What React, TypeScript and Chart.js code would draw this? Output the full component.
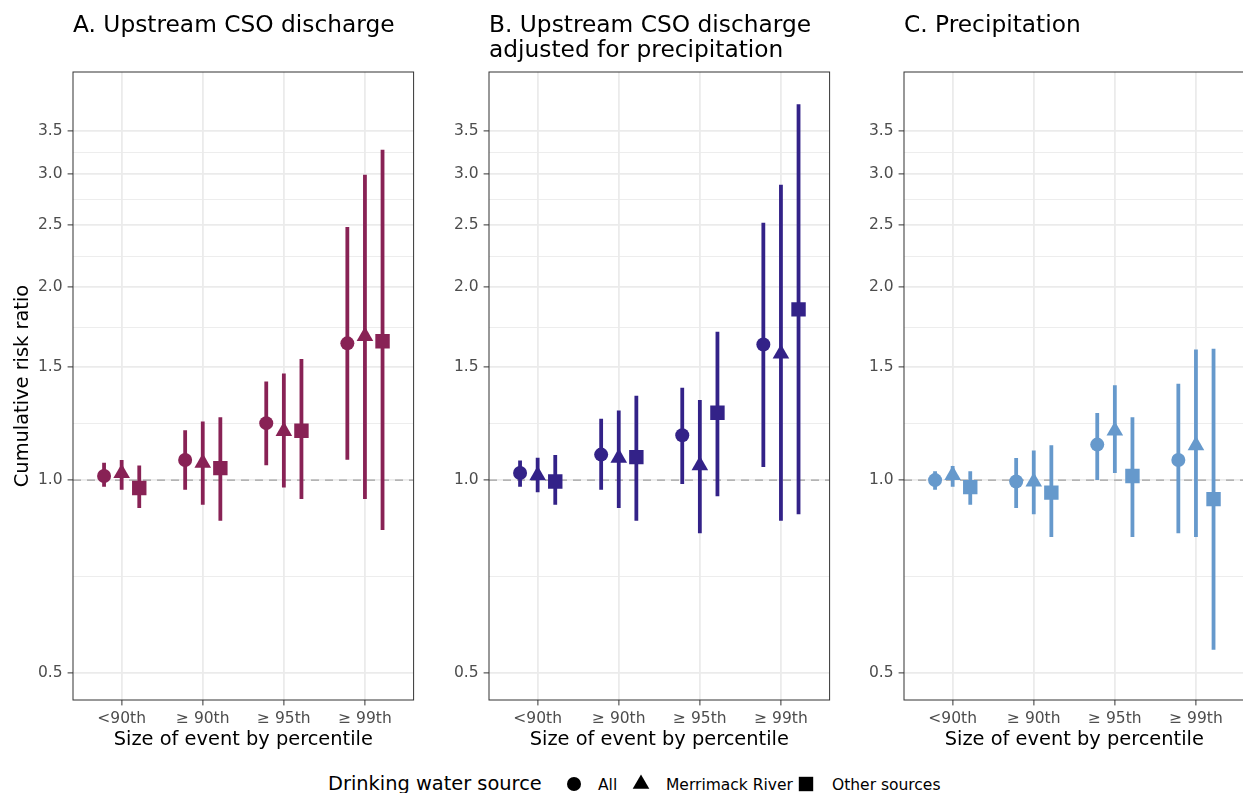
import React, { useEffect, useRef } from "react";
import { Chart, registerables } from "chart.js";

Chart.register(...registerables);

// ---------- data ----------
const CATEGORIES = ["<90th", "\u2265 90th", "\u2265 95th", "\u2265 99th"];
const SOURCES = ["All", "Merrimack River", "Other sources"];
const Y_MAJOR = [0.5, 1.0, 1.5, 2.0, 2.5, 3.0, 3.5];
const Y_MINOR = [0.707, 1.225, 1.732, 2.236, 2.739, 3.24];

// Panel A: Upstream CSO discharge
const A_ALL_EST = [1.015, 1.075, 1.227, 1.634];
const A_ALL_LO = [0.976, 0.966, 1.055, 1.076];
const A_ALL_HI = [1.064, 1.196, 1.425, 2.481];
const A_MERR_EST = [1.025, 1.064, 1.192, 1.677];
const A_MERR_LO = [0.966, 0.915, 0.974, 0.934];
const A_MERR_HI = [1.075, 1.234, 1.466, 2.995];
const A_OTHER_EST = [0.972, 1.044, 1.194, 1.646];
const A_OTHER_LO = [0.905, 0.864, 0.934, 0.836];
const A_OTHER_HI = [1.054, 1.253, 1.545, 3.274];

// Panel B: Upstream CSO discharge adjusted for precipitation
const B_ALL_EST = [1.026, 1.096, 1.175, 1.627];
const B_ALL_LO = [0.976, 0.966, 0.986, 1.048];
const B_ALL_HI = [1.073, 1.246, 1.393, 2.519];
const B_MERR_EST = [1.017, 1.083, 1.054, 1.574];
const B_MERR_LO = [0.957, 0.905, 0.826, 0.864];
const B_MERR_HI = [1.084, 1.284, 1.333, 2.889];
const B_OTHER_EST = [0.995, 1.086, 1.274, 1.846];
const B_OTHER_LO = [0.915, 0.864, 0.944, 0.885];
const B_OTHER_HI = [1.094, 1.354, 1.703, 3.857];

// Panel C: Precipitation
const C_ALL_EST = [1.0, 0.995, 1.136, 1.075];
const C_ALL_LO = [0.966, 0.905, 1.0, 0.826];
const C_ALL_HI = [1.032, 1.083, 1.272, 1.414];
const C_MERR_EST = [1.018, 0.994, 1.194, 1.133];
const C_MERR_LO = [0.976, 0.885, 1.026, 0.815];
const C_MERR_HI = [1.052, 1.112, 1.406, 1.598];
const C_OTHER_EST = [0.975, 0.956, 1.015, 0.934];
const C_OTHER_LO = [0.915, 0.815, 0.815, 0.544];
const C_OTHER_HI = [1.032, 1.133, 1.253, 1.603];

// ---------- styling ----------
const FONT = "'DejaVu Sans', sans-serif";
const COLORS = { A: "#882255", B: "#332288", C: "#6699CC" };
const POINT_STYLES = ["circle", "triangle", "rect"];
const POINT_RADII = [7, 9.6, 10.2];
const DODGE = 0.217;
const X_MIN = -0.6;
const X_MAX = 3.6;
const Y_MIN = 0.454;
const Y_MAX = 4.33;

Chart.defaults.font.family = FONT;

const isMajor = (v: number) => Y_MAJOR.some((m) => Math.abs(m - v) < 1e-6);

const panelDecor = {
  id: "panelDecor",
  afterDraw(chart: any, _args: any, opts: any) {
    const { ctx, chartArea } = chart;
    ctx.save();
    ctx.strokeStyle = "#333333";
    ctx.lineWidth = 1;
    ctx.strokeRect(chartArea.left, chartArea.top, chartArea.right - chartArea.left, chartArea.bottom - chartArea.top);
    ctx.fillStyle = "#000";
    ctx.font = `23.3px ${FONT}`;
    ctx.textAlign = "left";
    ctx.textBaseline = "alphabetic";
    (opts.lines || []).forEach((t: string, i: number) => {
      ctx.fillText(t, chartArea.left, 32 + i * 25);
    });
    ctx.restore();
  },
};

type PanelProps = {
  left: number;
  titleLines: string[];
  color: string;
  est: number[][];
  lo: number[][];
  hi: number[][];
  showYTitle: boolean;
};

const CANVAS_W = 430;
const CANVAS_H = 760;

function Panel({ left, titleLines, color, est, lo, hi, showYTitle }: PanelProps) {
  const ref = useRef<HTMLCanvasElement>(null);
  useEffect(() => {
    if (!ref.current) return;
    const datasets: any[] = [];
    datasets.push({
      type: "line",
      data: [
        { x: X_MIN, y: 1 },
        { x: X_MAX, y: 1 },
      ],
      borderColor: "#A0A0A0",
      borderWidth: 1.4,
      borderDash: [8, 6],
      pointRadius: 0,
      order: 10,
    });
    SOURCES.forEach((_s, k) => {
      const off = (k - 1) * DODGE;
      const seg: any[] = [];
      CATEGORIES.forEach((_c, i) => {
        seg.push({ x: i + off, y: lo[k][i] }, { x: i + off, y: hi[k][i] }, { x: i + off, y: null });
      });
      datasets.push({
        type: "line",
        data: seg,
        borderColor: color,
        borderWidth: 3.8,
        borderCapStyle: "butt",
        pointRadius: 0,
        spanGaps: false,
        order: 5,
      });
      datasets.push({
        type: "scatter",
        data: CATEGORIES.map((_c, i) => ({ x: i + off, y: est[k][i] })),
        pointStyle: POINT_STYLES[k],
        pointRadius: POINT_RADII[k],
        pointHoverRadius: POINT_RADII[k],
        backgroundColor: color,
        borderWidth: 0,
        order: 1,
      });
    });

    const chart = new Chart(ref.current, {
      type: "scatter",
      data: { datasets },
      plugins: [panelDecor],
      options: {
        animation: false,
        responsive: true,
        maintainAspectRatio: false,
        events: [],
        layout: { padding: { left: 0, top: 72, right: CANVAS_W - 413.6, bottom: CANVAS_H - 752 } },
        plugins: {
          legend: { display: false },
          tooltip: { enabled: false },
          panelDecor: { lines: titleLines },
        } as any,
        scales: {
          x: {
            type: "linear",
            min: X_MIN,
            max: X_MAX,
            bounds: "data",
            afterBuildTicks: (s: any) => {
              s.ticks = CATEGORIES.map((_c, i) => ({ value: i }));
            },
            afterFit: (s: any) => {
              s.height = 52;
            },
            ticks: {
              autoSkip: false,
              maxRotation: 0,
              padding: 4,
              color: "#4D4D4D",
              font: { size: 15.5, family: FONT },
              callback: (v: any) => CATEGORIES[Math.round(Number(v))] ?? "",
            },
            grid: {
              color: "#EBEBEB",
              lineWidth: 1.8,
              tickLength: 5.4,
              tickColor: "#333333",
              tickWidth: 1,
            },
            border: { display: false },
            title: {
              display: true,
              text: "Size of event by percentile",
              color: "#000",
              font: { size: 19.4, family: FONT },
              padding: { top: 0, bottom: 0 },
            },
          },
          y: {
            type: "logarithmic",
            min: Y_MIN,
            max: Y_MAX,
            bounds: "data",
            afterBuildTicks: (s: any) => {
              s.ticks = [...Y_MAJOR, ...Y_MINOR].sort((a, b) => a - b).map((v) => ({ value: v }));
            },
            afterFit: (s: any) => {
              s.width = 73;
            },
            ticks: {
              autoSkip: false,
              padding: 5,
              color: "#4D4D4D",
              font: { size: 15.5, family: FONT },
              callback: (v: any) => (isMajor(Number(v)) ? Number(v).toFixed(1) : ""),
            },
            grid: {
              color: "#EBEBEB",
              lineWidth: (c: any) => (c.tick && isMajor(c.tick.value) ? 1.8 : 0.9),
              tickLength: 5.4,
              tickColor: (c: any) => (c.tick && isMajor(c.tick.value) ? "#333333" : "rgba(0,0,0,0)"),
              tickWidth: 1,
            },
            border: { display: false },
            title: {
              display: showYTitle,
              text: "Cumulative risk ratio",
              color: "#000",
              font: { size: 19.4, family: FONT },
              padding: { top: 11.5, bottom: 0 },
            },
          },
        } as any,
      },
    });
    return () => chart.destroy();
  }, []);
  return (
    <div style={{ position: "absolute", left, top: 0, width: CANVAS_W, height: CANVAS_H }}>
      <canvas ref={ref} />
    </div>
  );
}

function LegendMarker({ kind, cx, cy }: { kind: number; cx: number; cy: number }) {
  const size = 22;
  return (
    <svg
      width={size}
      height={size}
      style={{ position: "absolute", left: cx - size / 2, top: cy - size / 2 }}
      viewBox={`0 0 ${size} ${size}`}
    >
      {kind === 0 && <circle cx={11} cy={11} r={7} fill="#000" />}
      {kind === 1 && <polygon points="11,1.5 19.3,15.8 2.7,15.8" fill="#000" />}
      {kind === 2 && <rect x={3.8} y={3.8} width={14.4} height={14.4} fill="#000" />}
    </svg>
  );
}

const LEGEND_MARKER_X = [573.7, 641, 806];
const LEGEND_TEXT_X = [598, 666, 832];

export default function App() {
  return (
    <div
      style={{
        position: "absolute",
        left: 0,
        top: 0,
        width: 1243,
        height: 793,
        overflow: "hidden",
        background: "#fff",
        fontFamily: FONT,
      }}
    >
      <Panel
        left={0}
        titleLines={["A. Upstream CSO discharge"]}
        color={COLORS.A}
        est={[A_ALL_EST, A_MERR_EST, A_OTHER_EST]}
        lo={[A_ALL_LO, A_MERR_LO, A_OTHER_LO]}
        hi={[A_ALL_HI, A_MERR_HI, A_OTHER_HI]}
        showYTitle={true}
      />
      <Panel
        left={416}
        titleLines={["B. Upstream CSO discharge", "adjusted for precipitation"]}
        color={COLORS.B}
        est={[B_ALL_EST, B_MERR_EST, B_OTHER_EST]}
        lo={[B_ALL_LO, B_MERR_LO, B_OTHER_LO]}
        hi={[B_ALL_HI, B_MERR_HI, B_OTHER_HI]}
        showYTitle={false}
      />
      <Panel
        left={831}
        titleLines={["C. Precipitation"]}
        color={COLORS.C}
        est={[C_ALL_EST, C_MERR_EST, C_OTHER_EST]}
        lo={[C_ALL_LO, C_MERR_LO, C_OTHER_LO]}
        hi={[C_ALL_HI, C_MERR_HI, C_OTHER_HI]}
        showYTitle={false}
      />
      <div
        style={{
          position: "absolute",
          left: 328,
          top: 773.4,
          fontSize: 19.4,
          lineHeight: "22.6px",
          whiteSpace: "nowrap",
          color: "#000",
        }}
      >
        Drinking water source
      </div>
      {SOURCES.map((s, k) => (
        <React.Fragment key={s}>
          <LegendMarker kind={k} cx={LEGEND_MARKER_X[k]} cy={784} />
          <div
            style={{
              position: "absolute",
              left: LEGEND_TEXT_X[k],
              top: 776,
              fontSize: 15.5,
              lineHeight: "18px",
              whiteSpace: "nowrap",
              color: "#000",
            }}
          >
            {s}
          </div>
        </React.Fragment>
      ))}
    </div>
  );
}
